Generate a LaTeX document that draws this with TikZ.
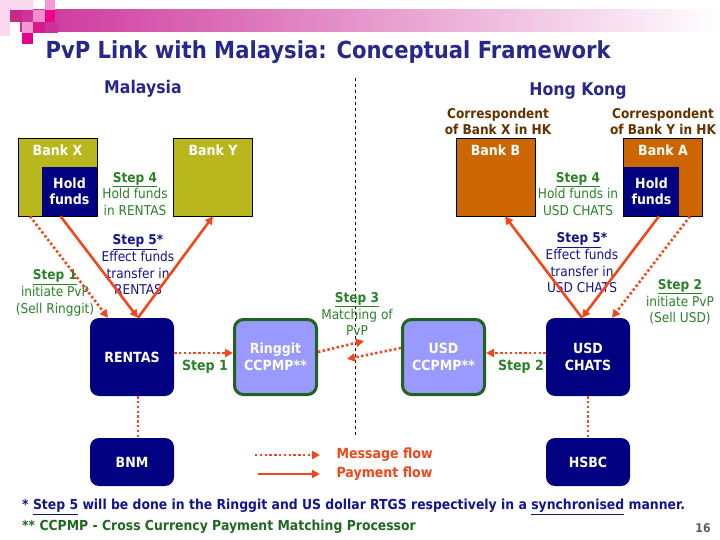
\documentclass[tikz,border=0pt]{standalone}
\usepackage{fontspec}
\setmainfont{DejaVu Sans}[FakeStretch=0.9]
\usetikzlibrary{arrows.meta,positioning}
\definecolor{titleblue}{RGB}{40,40,140}
\definecolor{boxnavy}{RGB}{0,0,128}
\definecolor{bankolive}{RGB}{184,184,30}
\definecolor{bankbrown}{RGB}{204,102,0}
\definecolor{ccpmpblue}{RGB}{153,153,255}
\definecolor{ccpmpgreen}{RGB}{30,100,30}
\definecolor{flowred}{RGB}{238,72,28}
\definecolor{stepgreen}{RGB}{40,130,40}
\definecolor{stepnavy}{RGB}{20,20,140}
\definecolor{corrbrown}{RGB}{100,50,0}
\definecolor{barpink}{RGB}{204,51,153}
\definecolor{footblue}{RGB}{20,20,150}
\newcommand{\boxfont}{\fontsize{14}{16.5}\selectfont\bfseries}
\newcommand{\stepfont}{\fontsize{13.5}{16.7}\selectfont}
\tikzset{
    >={Triangle[length=8pt,width=8pt]},
    bankbox/.style={
           rectangle,
           draw=black, line width=0.6pt,
           minimum width=79pt,
           minimum height=78pt,
           inner sep=0pt},
    holdbox/.style={
           rectangle,
           fill=boxnavy,
           minimum width=55pt,
           minimum height=49pt,
           inner sep=0pt,
           text=white, font=\boxfont, align=center},
    banklbl/.style={text=white, font=\boxfont},
    rtgsbox/.style={
           rectangle, rounded corners=9pt,
           fill=boxnavy,
           minimum width=84pt,
           inner sep=0pt,
           text=white, font=\boxfont, align=center},
    ccpmpbox/.style={
           rectangle, rounded corners=9pt,
           fill=ccpmpblue, draw=ccpmpgreen, line width=3pt,
           minimum width=82pt,
           minimum height=75pt,
           inner sep=0pt,
           text=white, font=\boxfont, align=center},
    steptxt/.style={font=\stepfont, align=center, inner sep=0pt},
    corrtxt/.style={text=corrbrown, font=\fontsize{13.5}{16}\selectfont\bfseries, align=center, inner sep=0pt},
    msg/.style={
           ->,
           draw=flowred, line width=2.6pt,
           dash pattern=on 2.4pt off 2.4pt},
    pay/.style={
           ->,
           draw=flowred, line width=2.6pt},
    link/.style={
           draw=flowred, line width=2.6pt,
           dash pattern=on 2.4pt off 2.4pt}
}
\begin{document}
\begin{tikzpicture}[x=1pt, y=-1pt]
        \useasboundingbox (0,0) rectangle (720,540);
        % header bar and squares
        \shade[left color=barpink, right color=white] (20,10) rectangle (720,32);
        \fill[magenta!15] (0,0) rectangle (10,36);
        \fill[magenta!15] (10,0) rectangle (33,10);
        \fill[magenta!80!black] (10,10) rectangle (22,22);
        \fill[magenta!45] (33,10) rectangle (45,22);
        \fill[magenta!40] (45,0) rectangle (55,10);
        \fill[magenta] (45,10) rectangle (55,22);
        \fill[magenta!40] (22,22) rectangle (33,33);
        \fill[magenta!90!black] (33,22) rectangle (45,33);
        \fill[barpink] (45,22) rectangle (58,33);
        \fill[magenta!95!blue] (22,33) rectangle (33,44);
        \node[text=titleblue, font=\fontsize{23.5}{27}\selectfont\bfseries, anchor=west] (title) at (42,52) {PvP Link with Malaysia: Conceptual Framework};

        % regions
        \node[text=titleblue, font=\fontsize{17.5}{20}\selectfont\bfseries] (mys) at (143,89) {Malaysia};
        \node[text=titleblue, font=\fontsize{17.5}{20}\selectfont\bfseries] (hk) at (578,91) {Hong Kong};
        \coordinate (divtop) at (355,78);
        \coordinate (divbot) at (355,435);
        \draw[dashed, line width=0.6pt] (divtop) -- (divbot);

        \node[corrtxt] (corrx) at (498,121) {Correspondent\\of Bank X in HK};
        \node[corrtxt] (corry) at (663,121) {Correspondent\\of Bank Y in HK};

        % banks
        \node[bankbox, fill=bankolive] (bankx) at (57.5,177) {};
        \node[banklbl] (bankxl) at ([yshift=-13pt]bankx.north) {Bank X};
        \node[holdbox] (holdx) at (69.5,191.5) {Hold\\funds};
        \node[bankbox, fill=bankolive] (banky) at (213,177) {};
        \node[banklbl] (bankyl) at ([yshift=-13pt]banky.north) {Bank Y};
        \node[bankbox, fill=bankbrown] (bankb) at (495.5,177) {};
        \node[banklbl] (bankbl) at ([yshift=-13pt]bankb.north) {Bank B};
        \node[bankbox, fill=bankbrown] (banka) at (663,177) {};
        \node[banklbl] (bankal) at ([yshift=-13pt]banka.north) {Bank A};
        \node[holdbox] (holda) at (651.5,191.5) {Hold\\funds};

        % systems
        \node[rtgsbox, minimum height=78pt] (rentas) at (132,357) {RENTAS};
        \node[ccpmpbox] (ringgit) at (275.5,357) {Ringgit\\CCPMP**};
        \node[ccpmpbox] (usdccpmp) at (443.5,357) {USD\\CCPMP**};
        \node[rtgsbox, minimum height=78pt] (chats) at (588,357) {USD\\CHATS};
        \node[rtgsbox, minimum height=48pt] (bnm) at (132,462) {BNM};
        \node[rtgsbox, minimum height=48pt] (hsbc) at (588,462) {HSBC};

        % steps
        \node[steptxt, text=stepgreen] (s4l) at (135,194) {\textbf{\underline{Step 4}}\\Hold funds\\in RENTAS};
        \node[steptxt, text=stepgreen] (s4r) at (578,194) {\textbf{\underline{Step 4}}\\Hold funds in\\USD CHATS};
        \node[steptxt, text=stepnavy] (s5l) at (138,265) {\textbf{\underline{Step 5}*}\\Effect funds\\transfer in\\RENTAS};
        \node[steptxt, text=stepnavy] (s5r) at (582,263) {\textbf{\underline{Step 5}*}\\Effect funds\\transfer in\\USD CHATS};
        \node[steptxt, text=stepgreen] (s1) at (55,293) {\textbf{\underline{Step 1}}\\initiate PvP\\(Sell Ringgit)};
        \node[steptxt, text=stepgreen] (s2) at (680,302) {\textbf{\underline{Step 2}}\\initiate PvP\\(Sell USD)};
        \node[steptxt, text=stepgreen] (s3) at (357,314) {\textbf{\underline{Step 3}}\\Matching of\\PvP};
        \node[text=stepgreen, font=\boxfont] (s1b) at (205,367) {Step 1};
        \node[text=stepgreen, font=\boxfont] (s2b) at (521,367) {Step 2};

        % flows
        \draw[pay] ([xshift=-9pt]holdx.south) -- ([xshift=6pt]rentas.north);
        \draw[pay] ([xshift=6pt]rentas.north) -- (banky.south);
        \draw[msg] ([xshift=-27.5pt]bankx.south) -- ([xshift=-24pt]rentas.north);
        \draw[pay] ([xshift=7.5pt]holda.south) -- ([xshift=-6pt]chats.north);
        \draw[pay] ([xshift=-6pt]chats.north) -- ([xshift=9.5pt]bankb.south);
        \draw[msg] ([xshift=27pt]banka.south) -- ([xshift=24pt]chats.north);
        \draw[msg] ([yshift=4pt]rentas.east) -- ([yshift=4pt]ringgit.west);
        \draw[msg] ([yshift=4pt]chats.west) -- ([yshift=4pt]usdccpmp.east);
        \coordinate (m3a) at (364,341);
        \coordinate (m3b) at (347,359);
        \draw[msg] ([yshift=5pt]ringgit.east) -- (m3a);
        \draw[msg] ([yshift=9pt]usdccpmp.west) -- (m3b);
        \draw[link] ([xshift=6pt]rentas.south) -- ([xshift=6pt]bnm.north);
        \draw[link] (chats.south) -- (hsbc.north);

        % legend
        \coordinate (msgs) at (255,455);
        \coordinate (msge) at (320,455);
        \coordinate (pays) at (258,474);
        \coordinate (paye) at (320,474);
        \draw[msg] (msgs) -- (msge);
        \draw[pay] (pays) -- (paye);
        \node[text=flowred, font=\boxfont, anchor=west] (msgl) at (333,455) {Message flow};
        \node[text=flowred, font=\boxfont, anchor=west] (payl) at (333,474) {Payment flow};

        % notes
        \node[text=stepnavy, font=\fontsize{13.8}{16}\selectfont\bfseries, anchor=west, inner sep=0pt] (note1) at (22,507) {* \underline{Step 5} will be done in the \textcolor{footblue}{Ringgit} and \textcolor{footblue}{US} dollar \textcolor{footblue}{RTGS} respectively in a \underline{synchronised} manner.};
        \node[text=stepgreen!80!black, font=\fontsize{13.8}{16}\selectfont\bfseries, anchor=west, inner sep=0pt] (note2) at (22,527) {** CCPMP - Cross Currency Payment Matching Processor};
        \node[text=black!65, font=\fontsize{12}{14}\selectfont\bfseries] (pageno) at (703,528) {16};
\end{tikzpicture}
\end{document}
